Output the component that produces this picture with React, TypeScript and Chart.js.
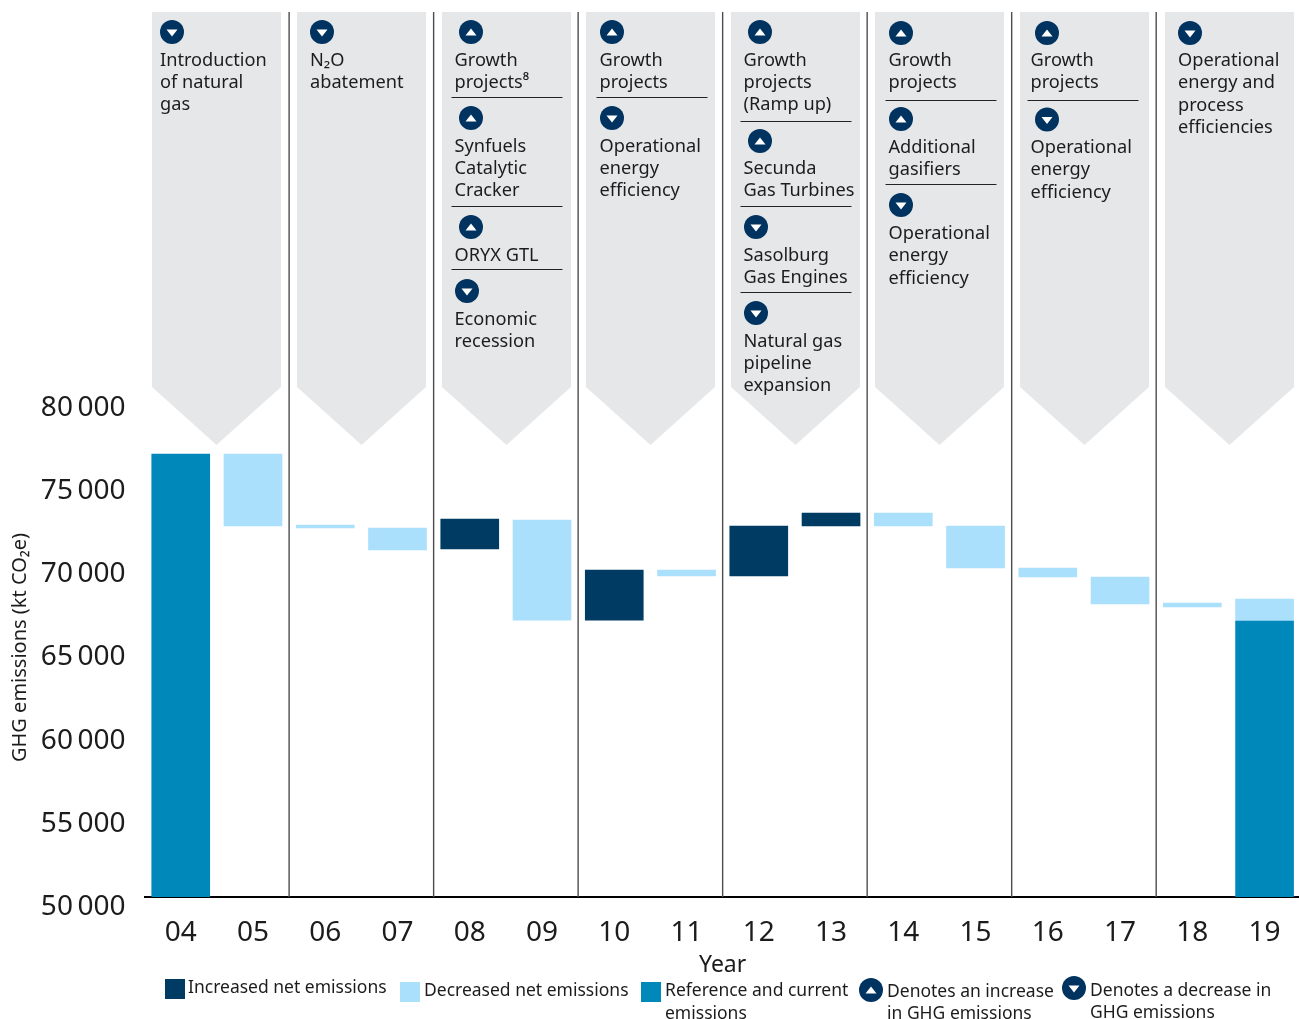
import React, { useEffect, useRef } from "react";
import { Chart, registerables } from "chart.js";

Chart.register(...registerables);

const years = ["04", "05", "06", "07", "08", "09", "10", "11", "12", "13", "14", "15", "16", "17", "18", "19"];
type R = [number, number] | null;
const referenceValues: R[] = [[50000, 76630], null, null, null, null, null, null, null, null, null, null, null, null, null, null, [50000, 66590]];
const increasedValues: R[] = [null, null, null, null, [70920, 72725], null, [66650, 69660], null, [69300, 72305], [72305, 73085], null, null, null, null, null, null];
const decreasedValues: R[] = [null, [72305, 76630], [72185, 72365], [70860, 72185], null, [66650, 72665], null, [69300, 69660], null, null, [72305, 73085], [69780, 72305], [69240, 69780], [67615, 69240], [67435, 67675], [66590, 67915]];

const NAVY = "#003b64";
const ICON = "#00335f";
const BLUE = "#0088bb";
const LIGHT = "#aae0fb";
const PANEL = "#e6e7e9";
const INK = "#1c1c1c";
const FONT = '"Noto Sans", sans-serif';

type Note = { dir: "up" | "down"; lines: string[] };
const panelNotes: Note[][] = [
  [{ dir: "down", lines: ["Introduction", "of natural", "gas"] }],
  [{ dir: "down", lines: ["N₂O", "abatement"] }],
  [
    { dir: "up", lines: ["Growth", "projects⁸"] },
    { dir: "up", lines: ["Synfuels", "Catalytic", "Cracker"] },
    { dir: "up", lines: ["ORYX GTL"] },
    { dir: "down", lines: ["Economic", "recession"] },
  ],
  [
    { dir: "up", lines: ["Growth", "projects"] },
    { dir: "down", lines: ["Operational", "energy", "efficiency"] },
  ],
  [
    { dir: "up", lines: ["Growth", "projects", "(Ramp up)"] },
    { dir: "up", lines: ["Secunda", "Gas Turbines"] },
    { dir: "down", lines: ["Sasolburg", "Gas Engines"] },
    { dir: "down", lines: ["Natural gas", "pipeline", "expansion"] },
  ],
  [
    { dir: "up", lines: ["Growth", "projects"] },
    { dir: "up", lines: ["Additional", "gasifiers"] },
    { dir: "down", lines: ["Operational", "energy", "efficiency"] },
  ],
  [
    { dir: "up", lines: ["Growth", "projects"] },
    { dir: "down", lines: ["Operational", "energy", "efficiency"] },
  ],
  [{ dir: "down", lines: ["Operational", "energy and", "process", "efficiencies"] }],
];

// Layout of the annotation panels: [icon x, icon y, first baseline, rule y (0 = none)]
const panelBoxes = [152, 297, 442, 586, 731, 875, 1020, 1165];
const panelTextX = [160, 310, 454.5, 599.5, 743.5, 888.5, 1030.5, 1178];
const panelLineStep = [22, 22, 22, 22, 22, 22.3, 22.3, 22.4];
const noteLayout: number[][][] = [
  [[172, 32, 66, 0]],
  [[322, 32, 66, 0]],
  [[471, 32, 66, 97.5], [471, 118, 152, 206.5], [471, 227, 261, 269.5], [467, 291, 325, 0]],
  [[612, 32, 66, 97.5], [612, 118, 152, 0]],
  [[760, 32, 66, 121.5], [760, 141, 174, 206.5], [756, 227, 261, 292.5], [756, 313, 347, 0]],
  [[901, 33, 66, 100.5], [901, 119, 153, 184.5], [901, 205, 239, 0]],
  [[1047, 33, 66, 100.5], [1047, 119.5, 153, 0]],
  [[1190, 33, 66, 0]],
];

const legendSquares = [
  { dataset: 1, x: 165, y: 979 },
  { dataset: 2, x: 400, y: 982 },
  { dataset: 0, x: 641, y: 982 },
];
const legendTexts: [string, number, number][] = [
  ["Increased net emissions", 188, 993],
  ["Decreased net emissions", 424, 996],
  ["Reference and current", 665, 996],
  ["emissions", 665, 1019],
  ["Denotes an increase", 887, 997],
  ["in GHG emissions", 887, 1019],
  ["Denotes a decrease in", 1090, 996],
  ["GHG emissions", 1090, 1018],
];
const legendIcons: ["up" | "down", number, number][] = [
  ["up", 871, 990],
  ["down", 1074, 988],
];

function drawIcon(ctx: CanvasRenderingContext2D, dir: "up" | "down", x: number, y: number) {
  ctx.fillStyle = ICON;
  ctx.beginPath();
  ctx.arc(x, y, 12, 0, Math.PI * 2);
  ctx.fill();
  ctx.fillStyle = "#ffffff";
  ctx.beginPath();
  if (dir === "up") {
    ctx.moveTo(x - 5.5, y + 3.5);
    ctx.lineTo(x + 5.5, y + 3.5);
    ctx.lineTo(x, y - 3.5);
  } else {
    ctx.moveTo(x - 5.5, y - 2.5);
    ctx.lineTo(x + 5.5, y - 2.5);
    ctx.lineTo(x, y + 4.5);
  }
  ctx.closePath();
  ctx.fill();
}

const panelPlugin = {
  id: "panels",
  beforeDatasetsDraw(chart: any) {
    const ctx: CanvasRenderingContext2D = chart.ctx;
    const xs = chart.scales.x;
    const step = xs.getPixelForValue(1) - xs.getPixelForValue(0);
    ctx.save();
    panelBoxes.forEach((left, p) => {
      const w = 129;
      ctx.fillStyle = PANEL;
      ctx.beginPath();
      ctx.moveTo(left, 12);
      ctx.lineTo(left + w, 12);
      ctx.lineTo(left + w, 387);
      ctx.lineTo(left + w / 2, 445);
      ctx.lineTo(left, 387);
      ctx.closePath();
      ctx.fill();
      const textX = panelTextX[p];
      panelNotes[p].forEach((note, n) => {
        const [ix, iy, base, rule] = noteLayout[p][n];
        drawIcon(ctx, note.dir, ix, iy);
        ctx.fillStyle = INK;
        ctx.font = `18.2px ${FONT}`;
        ctx.textAlign = "left";
        ctx.textBaseline = "alphabetic";
        note.lines.forEach((line, l) => ctx.fillText(line, textX, base + l * panelLineStep[p]));
        if (rule) {
          ctx.strokeStyle = "#222222";
          ctx.lineWidth = 1;
          ctx.beginPath();
          ctx.moveTo(textX - 3, rule);
          ctx.lineTo(textX + 108, rule);
          ctx.stroke();
        }
      });
    });
    // separators between pairs of years
    ctx.strokeStyle = "#4d4d4d";
    ctx.lineWidth = 1.4;
    for (let i = 2; i < years.length; i += 2) {
      const x = xs.getPixelForValue(i) - step / 2;
      ctx.beginPath();
      ctx.moveTo(x, 12);
      ctx.lineTo(x, chart.chartArea.bottom);
      ctx.stroke();
    }
    // legend
    legendSquares.forEach((s) => {
      ctx.fillStyle = chart.data.datasets[s.dataset].backgroundColor;
      ctx.fillRect(s.x, s.y, 20, 20);
    });
    ctx.fillStyle = INK;
    ctx.font = `17.5px ${FONT}`;
    legendTexts.forEach(([t, x, y]) => ctx.fillText(t, x, y));
    legendIcons.forEach(([d, x, y]) => drawIcon(ctx, d, x, y));
    ctx.restore();
  },
};

export default function App() {
  const ref = useRef<HTMLCanvasElement | null>(null);
  useEffect(() => {
    document.body.style.margin = "0";
    const chart = new Chart(ref.current as HTMLCanvasElement, {
      type: "bar",
      data: {
        labels: years,
        datasets: [
          { label: "Reference and current emissions", data: referenceValues as any, backgroundColor: BLUE, grouped: false, barThickness: 58, borderWidth: 0 },
          { label: "Increased net emissions", data: increasedValues as any, backgroundColor: NAVY, grouped: false, barThickness: 58, borderWidth: 0 },
          { label: "Decreased net emissions", data: decreasedValues as any, backgroundColor: LIGHT, grouped: false, barThickness: 58, borderWidth: 0 },
        ],
      },
      options: {
        responsive: false,
        animation: false,
        devicePixelRatio: 1,
        layout: { padding: { top: 398, right: 19.3, bottom: 40, left: 0 } },
        plugins: { legend: { display: false }, tooltip: { enabled: false }, title: { display: false } },
        scales: {
          x: {
            afterFit: (s: any) => { s.height = 82; },
            grid: { display: false, drawTicks: false },
            border: { display: true, color: "#000000", width: 2 },
            ticks: { color: INK, font: { family: FONT, size: 28 }, padding: 19, maxRotation: 0, autoSkip: false },
            title: { display: true, text: "Year", color: INK, font: { family: FONT, size: 23 }, padding: { top: 0, bottom: 0 } },
          },
          y: {
            min: 50000,
            max: 80000,
            afterFit: (s: any) => { s.width = 144.6; },
            grid: { display: false, drawTicks: false },
            border: { display: false },
            ticks: {
              stepSize: 5000,
              color: INK,
              font: { family: FONT, size: 28 },
              padding: 19,
              labelOffset: 10,
              callback: (v: any) => `${Math.floor(v / 1000)}\u2009000`,
            },
            title: { display: true, text: "GHG emissions (kt CO₂e)", color: INK, font: { family: FONT, size: 20 }, padding: { top: 8, bottom: 0 } },
          },
        },
      },
      plugins: [panelPlugin],
    } as any);
    return () => chart.destroy();
  }, []);
  return (
    <div style={{ position: "absolute", left: 0, top: 0, width: 1299, height: 1019, overflow: "hidden", background: "#ffffff" }}>
      <canvas ref={ref} width={1320} height={1019} style={{ display: "block" }} />
    </div>
  );
}
